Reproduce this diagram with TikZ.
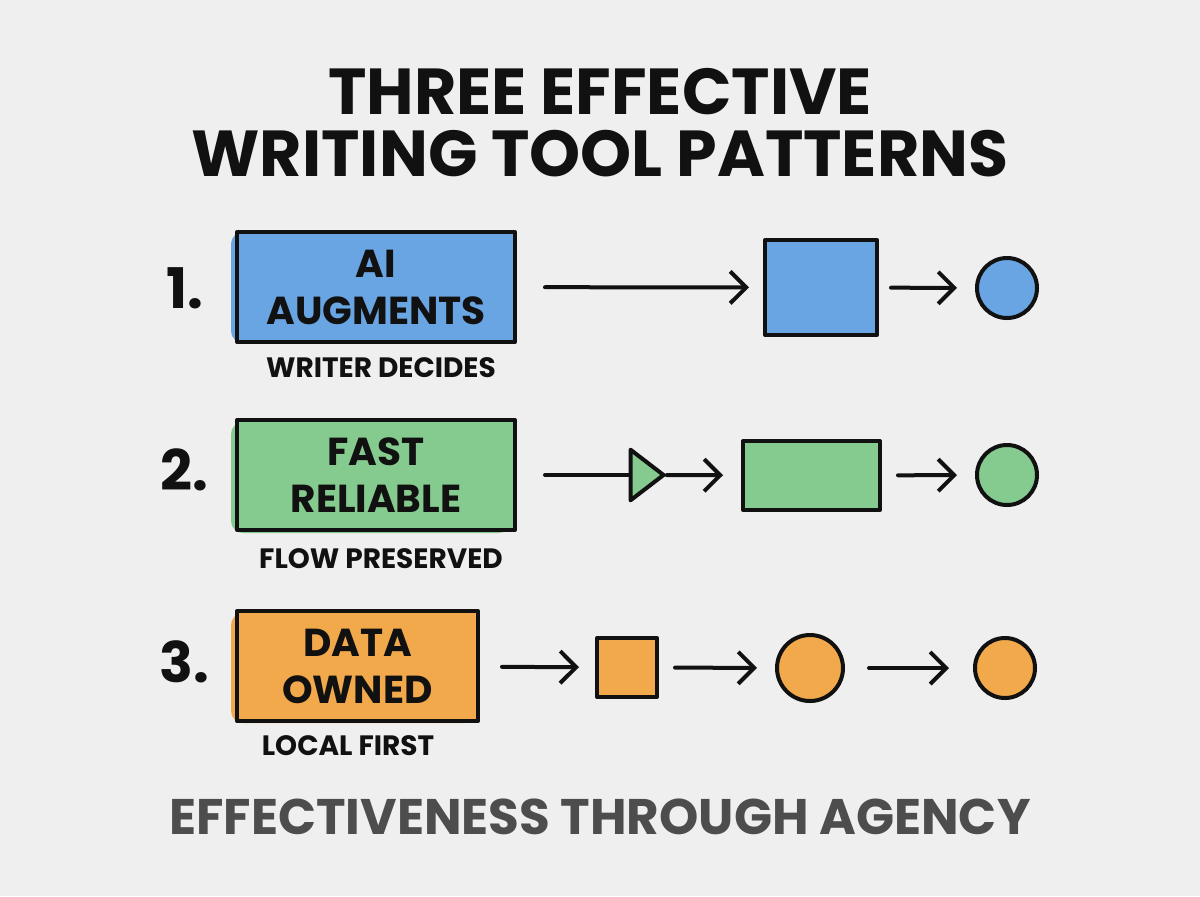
\documentclass[tikz,border=0pt]{standalone}
\usepackage{fontspec}
\setmainfont{Poppins}
\usetikzlibrary{arrows.meta,shapes.geometric}
\definecolor{bg}{HTML}{EFEFEF}
\definecolor{ink}{HTML}{111111}
\definecolor{cblue}{HTML}{69A5E3}
\definecolor{cgreen}{HTML}{85CA8E}
\definecolor{corange}{HTML}{F2A94B}
\definecolor{foot}{HTML}{4D4D4D}
\tikzset{
  ln/.style={draw=ink,line width=2pt,line cap=round,line join=round},
  flow/.style={ln,-{Straight Barb[length=8pt,width=16pt,line width=2pt]}},
  mainbox/.style={ln,minimum height=55pt,inner sep=0pt,align=center,
    font=\fontsize{19.5}{23.5}\selectfont\bfseries,text=ink},
  blob/.style={rounded corners=6pt,draw=none},
  num/.style={anchor=base,font=\fontsize{28}{30}\selectfont\bfseries,text=ink},
  sub/.style={anchor=base,font=\fontsize{14}{16}\selectfont\bfseries,text=ink},
  ttl/.style={anchor=base,inner sep=0pt,font=\fontsize{32.5}{34}\selectfont\bfseries,text=ink},
  shp/.style={ln,inner sep=0pt},
}
\begin{document}
\begin{tikzpicture}[x=0.5pt,y=-0.5pt]
\fill[bg] (0,0) rectangle (1200,896);
\useasboundingbox (0,0) rectangle (1200,896);

% title
\node[ttl] (title1) at (600,114) {THREE EFFECTIVE};
\node[ttl] (title2) at (600,176) {WRITING TOOL PATTERNS};

% ---------- row 1
\node[num] (n1) at (185,308) {1.};
\fill[cblue,blob] (231,232) rectangle (511,343);
\node[mainbox,minimum width=139pt,fill=cblue] (b1) at (376,287) {AI\\AUGMENTS};
\node[sub] (s1) at (381,377) {WRITER DECIDES};
\node[shp,rectangle,fill=cblue,minimum width=56pt,minimum height=47.5pt] (q1) at (821,287.5) {};
\node[shp,circle,fill=cblue,minimum size=30pt] (c1) at (1007,288) {};
\draw[flow,shorten <=14pt,shorten >=7pt] (b1) -- (q1);
\draw[flow,shorten <=6pt,shorten >=9pt] (q1) -- (c1);

% ---------- row 2
\node[num] (n2) at (184,490) {2.};
\fill[cgreen,blob] (231,422) rectangle (511,533);
\node[mainbox,minimum width=139pt,fill=cgreen] (b2) at (376,475) {FAST\\RELIABLE};
\node[sub] (s2) at (381,568) {FLOW PRESERVED};
\node[shp,isosceles triangle,isosceles triangle apex angle=75,fill=cgreen,
  minimum height=16.5pt,minimum width=22pt] (t2) at (643,475) {};
\node[shp,rectangle,fill=cgreen,minimum width=68.5pt,minimum height=34.5pt] (r2) at (811.5,475.5) {};
\node[shp,circle,fill=cgreen,minimum size=30pt] (c2) at (1007,475) {};
\draw[ln,shorten <=14pt] (b2) -- (t2);
\draw[flow,shorten >=9pt] (t2) -- (r2);
\draw[flow,shorten <=8pt,shorten >=9pt] (r2) -- (c2);

% ---------- row 3
\node[num] (n3) at (184,682) {3.};
\fill[corange,blob] (231,613) rectangle (474,723);
\node[mainbox,minimum width=120.5pt,fill=corange] (b3) at (357.5,666) {DATA\\OWNED};
\node[sub] (s3) at (348,755) {LOCAL FIRST};
\node[shp,rectangle,fill=corange,minimum width=30pt,minimum height=29.5pt] (q3) at (627,667.5) {};
\node[shp,circle,fill=corange,minimum size=33pt] (c3a) at (810,668) {};
\node[shp,circle,fill=corange,minimum size=30pt] (c3b) at (1005,668) {};
\draw[flow,shorten <=11pt,shorten >=8pt] (b3) -- (q3);
\draw[flow,shorten <=8pt,shorten >=9pt] (q3) -- (c3a);
\draw[flow,shorten <=12pt,shorten >=12pt] (c3a) -- (c3b);

% footer
\node[font=\fontsize{25}{28}\selectfont\bfseries,text=foot] (foot) at (600,817)
  {EFFECTIVENESS THROUGH AGENCY};
\end{tikzpicture}
\end{document}
